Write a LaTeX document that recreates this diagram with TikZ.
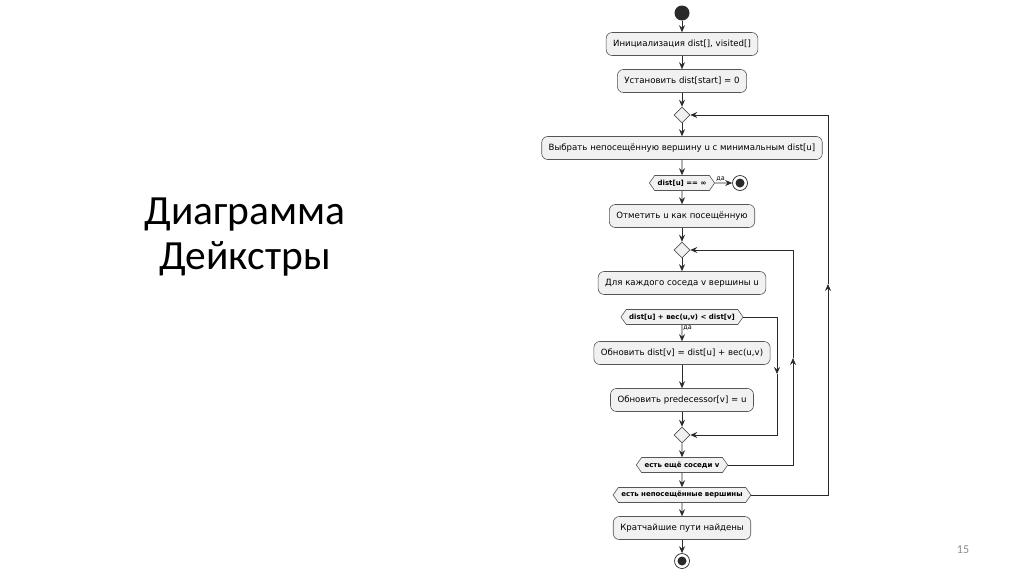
\documentclass[tikz,border=0pt]{standalone}
\usepackage{fontspec}
\setmainfont{Carlito}
\newfontfamily\flowfont{DejaVu Sans}
\usetikzlibrary{shapes.geometric,shapes.symbols,arrows.meta,positioning}
\definecolor{boxfill}{HTML}{F1F1F1}
\definecolor{boxline}{HTML}{555555}
\definecolor{flowline}{HTML}{2A2A2A}
\definecolor{pagegray}{HTML}{8C8C8C}

\begin{document}
\begin{tikzpicture}[x=1pt,y=-1pt,
  action/.style={draw=boxline, line width=0.6pt, fill=boxfill, rounded corners=6pt, minimum height=23pt,
    inner xsep=7pt, inner ysep=0pt, font=\flowfont\fontsize{8.6}{10}\selectfont},
  test/.style={signal, signal to=east and west, signal pointer angle=110, draw=boxline, line width=0.6pt,
    fill=boxfill, minimum height=15pt, inner xsep=3pt, inner ysep=0pt,
    font=\flowfont\bfseries\fontsize{7}{8}\selectfont},
  merge/.style={diamond, draw=boxline, line width=0.6pt, fill=boxfill, minimum width=16pt, minimum height=16pt, inner sep=0pt},
  startdot/.style={circle, fill=flowline, minimum size=15pt, inner sep=0pt},
  endring/.style={circle, draw=flowline, line width=0.7pt, minimum size=15pt, inner sep=0pt},
  flow/.style={draw=flowline, line width=0.7pt, -{Stealth[length=7pt,width=6pt,inset=2.5pt]}},
  yes/.style={font=\flowfont\fontsize{6.5}{7}\selectfont, inner sep=1pt}]
				\fill[white] (0,0) rectangle (1024,574);
				\useasboundingbox (0,0) rectangle (1024,574);
				% title and page number
				\node[font=\fontsize{41.5}{45}\selectfont, align=center] (title) at (245,237) {Диаграмма\\Дейкстры};
				\node[font=\fontsize{12}{14}\selectfont, text=pagegray] (pageno) at (963,550) {15};
				% flow
				\node[startdot] (start) at (682,13) {};
				\node[action] (init) at (682,44) {Инициализация dist[], visited[]};
				\node[action] (setzero) at (682,81) {Установить dist[start] = 0};
				\node[merge] (m1) at (682,115) {};
				\node[action] (pick) at (682,148) {Выбрать непосещённую вершину u с минимальным dist[u]};
				\node[test] (c1) at (682,183) {dist[u] == ∞};
				\node[endring] (stop1) at (740,183) {};
				\fill[flowline] (stop1) circle (4.5pt);
				\node[action] (mark) at (682,216) {Отметить u как посещённую};
				\node[merge] (m2) at (682,250) {};
				\node[action] (each) at (682,283) {Для каждого соседа v вершины u};
				\node[test] (c2) at (682,317) {dist[u] + вес(u,v) < dist[v]};
				\node[action] (upd) at (682,353) {Обновить dist[v] = dist[u] + вес(u,v)};
				\node[action] (pred) at (682,400) {Обновить predecessor[v] = u};
				\node[merge] (m3) at (682,435) {};
				\node[test] (c3) at (682,465) {есть ещё соседи v};
				\node[test] (c4) at (682,495) {есть непосещённые вершины};
				\node[action] (done) at (682,528) {Кратчайшие пути найдены};
				\node[endring] (stop2) at (682,561) {};
				\fill[flowline] (stop2) circle (4.5pt);
				\foreach \a/\b in {start/init, init/setzero, setzero/m1, m1/pick, pick/c1, c1/mark,
				  mark/m2, m2/each, upd/pred, pred/m3, m3/c3, c3/c4, c4/done, done/stop2}
				  \draw[flow] (\a) -- (\b);
				\draw[flow] (c1) -- node[yes, anchor=south west, pos=0] {да} (stop1);
				\draw[flow] (c2) -- node[yes, anchor=north west, pos=0] {да} (upd);
				% loops
				\coordinate (k3) at (777,374);
				\coordinate (k2) at (793,358);
				\coordinate (k1) at (828,284);
				\draw[flow] (c2.east) -| (k3);
				\draw[flow] (k3) |- (m3.east);
				\draw[flow] (c3.east) -| (k2);
				\draw[flow] (k2) |- (m2.east);
				\draw[flow] (c4.east) -| (k1);
				\draw[flow] (k1) |- (m1.east);
			\end{tikzpicture}
\end{document}
